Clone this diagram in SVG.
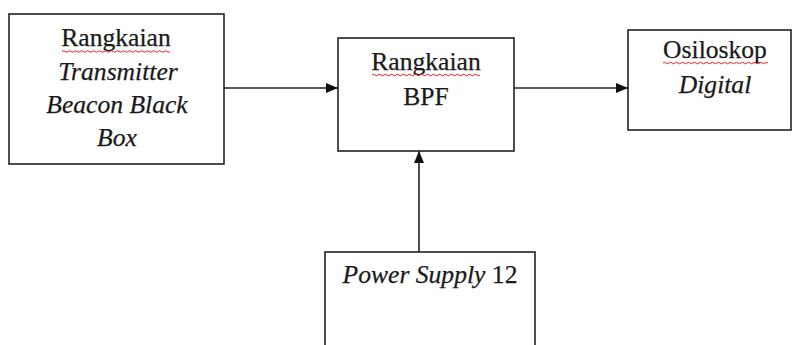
<svg xmlns="http://www.w3.org/2000/svg" width="793" height="345" viewBox="0 0 793 345">
<style>
.box{fill:#fff;stroke:#222;stroke-width:1.6}
.t{font-family:"Liberation Serif","Times New Roman",serif;font-size:25.6px;fill:#1a1a1a;text-anchor:middle;stroke:#1a1a1a;stroke-width:0.25}
.i{font-style:italic}
.conn{stroke:#222;stroke-width:1.6;fill:none}
.sq{stroke:#e02020;stroke-width:1;fill:none}
</style>
<defs>
<marker id="ah" markerWidth="12" markerHeight="10" refX="12" refY="5" orient="auto" markerUnits="userSpaceOnUse">
<path d="M0,0 L12,5 L0,10 Z" fill="#111"/>
</marker>
</defs>
<rect width="793" height="345" fill="#fff"/>
<g id="connectors">
<line class="conn" x1="224" y1="88" x2="338" y2="88" marker-end="url(#ah)"/>
<line class="conn" x1="514" y1="88" x2="628" y2="88" marker-end="url(#ah)"/>
<line class="conn" x1="419" y1="252" x2="419" y2="151" marker-end="url(#ah)"/>
</g>
<g id="transmitter">
<rect class="box" x="9" y="14" width="215" height="150"/>
<text class="t" x="116" y="46">Rangkaian</text>
<path class="sq" d="M62,51.5 q1.5,-1.5 3,0 t3,0 t3,0 t3,0 t3,0 t3,0 t3,0 t3,0 t3,0 t3,0 t3,0 t3,0 t3,0 t3,0 t3,0 t3,0 t3,0 t3,0 t3,0 t3,0 t3,0 t3,0 t3,0 t3,0 t3,0 t3,0 t3,0 t3,0 t3,0 t3,0 t3,0 t3,0 t3,0 t3,0 t3,0 t3,0"/>
<text class="t i" x="118" y="80">Transmitter</text>
<text class="t i" x="117" y="113">Beacon Black</text>
<text class="t i" x="117" y="146">Box</text>
</g>
<g id="bpf">
<rect class="box" x="338" y="38" width="176" height="113"/>
<text class="t" x="426" y="70">Rangkaian</text>
<path class="sq" d="M372,75 q1.5,-1.5 3,0 t3,0 t3,0 t3,0 t3,0 t3,0 t3,0 t3,0 t3,0 t3,0 t3,0 t3,0 t3,0 t3,0 t3,0 t3,0 t3,0 t3,0 t3,0 t3,0 t3,0 t3,0 t3,0 t3,0 t3,0 t3,0 t3,0 t3,0 t3,0 t3,0 t3,0 t3,0 t3,0 t3,0 t3,0 t3,0"/>
<text class="t" x="426" y="105">BPF</text>
</g>
<g id="osiloskop">
<rect class="box" x="628" y="30" width="163" height="100"/>
<text class="t" x="715" y="58">Osiloskop</text>
<path class="sq" d="M663,63 q1.5,-1.5 3,0 t3,0 t3,0 t3,0 t3,0 t3,0 t3,0 t3,0 t3,0 t3,0 t3,0 t3,0 t3,0 t3,0 t3,0 t3,0 t3,0 t3,0 t3,0 t3,0 t3,0 t3,0 t3,0 t3,0 t3,0 t3,0 t3,0 t3,0 t3,0 t3,0 t3,0 t3,0 t3,0 t3,0 t3,0"/>
<text class="t i" x="715" y="93">Digital</text>
</g>
<g id="power">
<rect class="box" x="325" y="252" width="210" height="110"/>
<text class="t" x="430" y="283"><tspan class="i">Power Supply</tspan> 12</text>
</g>
</svg>
